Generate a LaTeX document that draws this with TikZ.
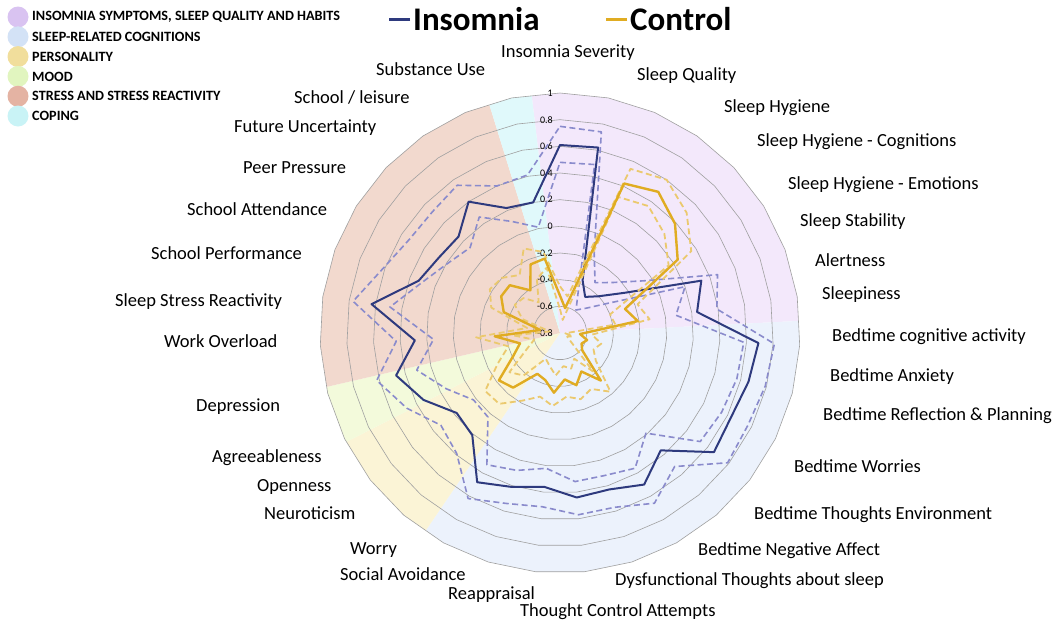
\documentclass[tikz,border=0pt]{standalone}
\usepackage{fontspec}
\setmainfont{Carlito}
\usetikzlibrary{positioning}

\definecolor{insnavy}{HTML}{2E3A7E}
\definecolor{insband}{HTML}{8A8BCC}
\definecolor{ctlgold}{HTML}{E0AC22}
\definecolor{ctlband}{HTML}{EBC96E}
\definecolor{ringgray}{HTML}{A0A0A0}
\definecolor{sectsleep}{HTML}{F3E8FB}
\definecolor{sectcog}{HTML}{ECF2FC}
\definecolor{sectpers}{HTML}{FBF4D6}
\definecolor{sectmood}{HTML}{F3FADB}
\definecolor{sectstress}{HTML}{F2D9CE}
\definecolor{sectcope}{HTML}{E0F9FB}
\definecolor{dotsleep}{HTML}{D9C3F1}
\definecolor{dotcog}{HTML}{D3E2F6}
\definecolor{dotpers}{HTML}{F1DE9C}
\definecolor{dotmood}{HTML}{E1F5BF}
\definecolor{dotstress}{HTML}{E4B3A3}
\definecolor{dotcope}{HTML}{C9F3F6}

% radar data, value -0.8 at the centre, 1 on the outer ring
\def\insMean{0.61,0.62,-0.37,-0.47,-0.40,-0.23,0.33,0.24,0.69,0.66,0.63,0.66,0.36,0.50,0.43,0.44,0.36,0.41,0.48,0.21,0.18,0.34,0.47,0.29,0.63,0.33,0.27,0.25,0.40,0.22,0.20}
\def\insUp{0.75,0.74,-0.15,-0.34,-0.25,-0.06,0.46,0.39,0.81,0.79,0.77,0.79,0.52,0.66,0.57,0.57,0.51,0.54,0.62,0.39,0.33,0.48,0.62,0.43,0.77,0.61,0.53,0.52,0.55,0.40,0.41}
\def\insLow{0.48,0.49,-0.45,-0.59,-0.53,-0.38,0.20,0.08,0.58,0.57,0.55,0.53,0.19,0.36,0.32,0.32,0.22,0.28,0.33,0.03,0.02,0.15,0.31,0.15,0.49,0.30,0.19,0.13,0.26,0.11,0.01}
\def\ctlMean{-0.52,-0.61,0.42,0.49,0.39,0.24,-0.28,-0.21,-0.65,-0.59,-0.62,-0.59,-0.33,-0.47,-0.39,-0.45,-0.35,-0.43,-0.45,-0.26,-0.22,-0.41,-0.49,-0.31,-0.65,-0.35,-0.28,-0.28,-0.41,-0.24,-0.23}
\def\ctlUp{-0.45,-0.52,0.54,0.60,0.51,0.36,-0.18,-0.12,-0.56,-0.48,-0.52,-0.46,-0.22,-0.32,-0.28,-0.32,-0.25,-0.30,-0.22,-0.10,-0.09,-0.28,-0.40,-0.17,-0.55,-0.25,-0.18,-0.20,-0.27,-0.11,-0.18}
\def\ctlLow{-0.62,-0.70,0.31,0.36,0.28,0.16,-0.40,-0.38,-0.76,-0.70,-0.74,-0.70,-0.42,-0.58,-0.52,-0.55,-0.48,-0.54,-0.58,-0.38,-0.32,-0.52,-0.60,-0.45,-0.72,-0.50,-0.40,-0.42,-0.52,-0.36,-0.30}
\def\radarR{240}
\def\valstep{133.333}

% one closed radar line: style, coordinate prefix, values
\newcommand{\radarline}[3]{%
  \foreach \v [count=\k from 0] in #3
    \coordinate (#2\k) at ({-90+\k*360/31}:{(\v+0.8)*\valstep});
  \draw[#1] (#20) \foreach \k in {1,...,30} {-- (#2\k)} -- cycle;
}

\tikzset{
  ringline/.style={draw=ringgray, line width=0.6pt},
  insmean/.style={draw=insnavy, line width=2pt, line join=round},
  insci/.style={draw=insband, line width=1.6pt, dash pattern=on 6pt off 3.5pt, line join=round},
  ctlmean/.style={draw=ctlgold, line width=2.4pt, line join=round},
  ctlci/.style={draw=ctlband, line width=1.8pt, dash pattern=on 6pt off 3.5pt, line join=round},
  catlabel/.style={font=\fontsize{18.5}{21}\selectfont, anchor=mid west, inner sep=0pt},
  ticklabel/.style={font=\fontsize{10}{12}\selectfont, anchor=east, inner sep=0pt},
  legdot/.style={circle, minimum size=21pt, inner sep=0pt},
  legtext/.style={font=\bfseries\fontsize{14.2}{16}\selectfont, inner sep=0pt},
  titletext/.style={font=\bfseries\fontsize{33}{36}\selectfont, anchor=base west, inner sep=0pt},
}

\begin{document}
\begin{tikzpicture}[x=1pt,y=-1pt]
\path[fill=white] (0,0) rectangle (1059,627);

\begin{scope}[shift={(560,333)}]
% coloured sectors
\begin{scope}
\clip plot[samples at={0,...,30}] ({-90+\x*360/31}:\radarR) -- cycle;
\foreach \a/\b/\c in {-96.8/-2.9/sectsleep, -2.9/124.2/sectcog, 124.2/153/sectpers, 153/167/sectmood, 167/252.8/sectstress, 252.8/263.2/sectcope}
  \fill[\c] (0,0) -- (\a:260) arc[start angle=\a, end angle=\b, radius=260] -- cycle;
\end{scope}
% rings
\foreach \i in {1,...,9}
  \draw[ringline] plot[samples at={0,...,30}] ({-90+\x*360/31}:{\i*\radarR/9}) -- cycle;
\foreach \t [count=\i from 0] in {-0.8,-0.6,-0.4,-0.2,0,0.2,0.4,0.6,0.8,1}
  \node[ticklabel] (tick\i) at (-7,{-\i*\radarR/9}) {\t};

% insomnia group
\radarline{insci}{iu}{\insUp}
\radarline{insci}{il}{\insLow}
\radarline{insmean}{im}{\insMean}
% control group
\radarline{ctlci}{cu}{\ctlUp}
\radarline{ctlci}{cl}{\ctlLow}
\radarline{ctlmean}{cm}{\ctlMean}
\end{scope}

% category labels
\node[catlabel] (lblSeverity) at (501,55) {Insomnia Severity};
\node[catlabel] (lblQuality) at (637,78) {Sleep Quality};
\node[catlabel] (lblHygiene) at (724,110) {Sleep Hygiene};
\node[catlabel] (lblHygCog) at (757,144) {Sleep Hygiene - Cognitions};
\node[catlabel] (lblHygEmo) at (788,187) {Sleep Hygiene - Emotions};
\node[catlabel] (lblStability) at (800,224) {Sleep Stability};
\node[catlabel] (lblAlert) at (815,264) {Alertness};
\node[catlabel] (lblSleepy) at (822,297) {Sleepiness};
\node[catlabel] (lblCogAct) at (832,339) {Bedtime cognitive activity};
\node[catlabel] (lblAnxiety) at (830,379) {Bedtime Anxiety};
\node[catlabel] (lblReflect) at (823,418) {Bedtime Reflection \& Planning};
\node[catlabel] (lblWorries) at (794,470) {Bedtime Worries};
\node[catlabel] (lblEnviron) at (754,517) {Bedtime Thoughts Environment};
\node[catlabel] (lblNegAff) at (698,553) {Bedtime Negative Affect};
\node[catlabel] (lblDysfunc) at (615,583) {Dysfunctional Thoughts about sleep};
\node[catlabel] (lblControl) at (520,614) {Thought Control Attempts};
\node[catlabel] (lblReappr) at (448,597) {Reappraisal};
\node[catlabel] (lblAvoid) at (340,578) {Social Avoidance};
\node[catlabel] (lblWorry) at (350,552) {Worry};
\node[catlabel] (lblNeuro) at (264,517) {Neuroticism};
\node[catlabel] (lblOpen) at (257,489) {Openness};
\node[catlabel] (lblAgree) at (212,460) {Agreeableness};
\node[catlabel] (lblDepress) at (196,409) {Depression};
\node[catlabel] (lblOverload) at (164,345) {Work Overload};
\node[catlabel] (lblStressReact) at (115,304) {Sleep Stress Reactivity};
\node[catlabel] (lblPerform) at (151,257) {School Performance};
\node[catlabel] (lblAttend) at (187,213) {School Attendance};
\node[catlabel] (lblPeer) at (243,171) {Peer Pressure};
\node[catlabel] (lblFuture) at (234,130) {Future Uncertainty};
\node[catlabel] (lblLeisure) at (294,101) {School / leisure};
\node[catlabel] (lblSubst) at (376,73) {Substance Use};

% legend
\foreach \c/\txt [count=\i from 0] in {dotsleep/{INSOMNIA SYMPTOMS, SLEEP QUALITY AND HABITS}, dotcog/{SLEEP-RELATED COGNITIONS}, dotpers/{PERSONALITY}, dotmood/{MOOD}, dotstress/{STRESS AND STRESS REACTIVITY}, dotcope/{COPING}} {
  \node[legdot, fill=\c] (legdot\i) at (18,{17+\i*19.8}) {};
  \node[legtext, anchor=west] (legtxt\i) at (32,{17+\i*19.8}) {\txt};
}

% title
\node[titletext] (ttlIns) at (413,30) {Insomnia};
\node[titletext] (ttlCtl) at (630,30) {Control};
\draw[insnavy, line width=2.2pt] ([xshift=-3pt,yshift=-1pt]ttlIns.west) -- ++(-21,0);
\draw[ctlgold, line width=2.2pt] ([xshift=-3pt,yshift=-1pt]ttlCtl.west) -- ++(-21,0);
\end{tikzpicture}
\end{document}
